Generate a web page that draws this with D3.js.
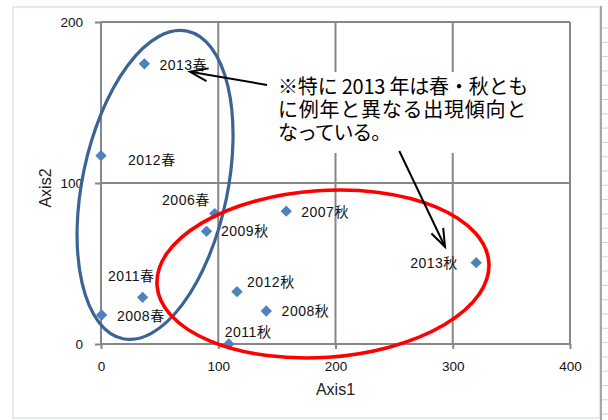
<!DOCTYPE html>
<html>
<head>
<meta charset="utf-8">
<script src="https://cdn.jsdelivr.net/npm/d3@7"></script>
<style>
  html, body { margin: 0; padding: 0; background: #fff; }
  svg { display: block; }
</style>
</head>
<body>
<svg id="chart" width="608" height="420"></svg>
<script>
// ---- data ----
const labels  = ["2013春","2012春","2006春","2009秋","2011春","2008春","2012秋","2008秋","2011秋","2007秋","2013秋"];
const axis1   = [37, 0, 97, 90, 35.5, 0.5, 116, 141, 109, 158, 320];
const axis2   = [174, 117, 81, 70, 29, 18, 32.5, 20.5, 0, 82.5, 50.5];
const xTicks  = [0, 100, 200, 300, 400];
const yTicks  = [0, 100, 200];
const calloutLines = ["※特に 2013 年は春・秋とも", "に例年と異なる出現傾向と", "なっている。"];
const xTitle = "Axis1";
const yTitle = "Axis2";

// ---- label placement (pixel offsets from marker, anchor) ----
const labelPlace = [
  [15, 1, "start"], [27, 4, "start"], [-5, -13, "end"], [14.5, 0, "start"],
  [12, -21, "end"], [15.4, 1, "start"], [10, -10, "start"], [15.3, 0, "start"],
  [-4, -12, "start"], [15, 0.7, "start"], [-18.4, 0.6, "end"]
];

const svg = d3.select("#chart");

const x = d3.scaleLinear().domain([0, 400]).range([101, 570]);
const y = d3.scaleLinear().domain([0, 200]).range([344, 22]);

const gridColor = "#878787";
const font = "'Liberation Sans', 'Noto Sans CJK JP', sans-serif";
const jpFont = "'Noto Sans CJK JP', sans-serif";

// spreadsheet background decorations
svg.append("rect").attr("x", 13).attr("y", 7).attr("width", 587).attr("height", 411)
  .attr("fill", "#fff").attr("stroke", "#d3d9e4").attr("stroke-width", 1.2);
svg.append("line").attr("x1", 601).attr("x2", 601).attr("y1", 6).attr("y2", 420)
  .attr("stroke", "#8c8c8c").attr("stroke-width", 1.5);
svg.append("g").selectAll("line").data(d3.range(28, 420, 14.3)).join("line")
  .attr("x1", 602).attr("x2", 608).attr("y1", d => d).attr("y2", d => d)
  .attr("stroke", "#c9d2e3").attr("stroke-width", 1);

// gridlines
const grid = svg.append("g");
grid.selectAll("line.vx").data(xTicks).join("line").attr("class", "vx")
  .attr("x1", d => x(d)).attr("x2", d => x(d)).attr("y1", y(200)).attr("y2", y(0))
  .attr("stroke", gridColor).attr("stroke-width", 2);
grid.selectAll("line.hy").data(yTicks).join("line").attr("class", "hy")
  .attr("x1", x(0)).attr("x2", x(400)).attr("y1", d => y(d)).attr("y2", d => y(d))
  .attr("stroke", gridColor).attr("stroke-width", 2);

// axes
const xAxis = svg.append("g").attr("transform", `translate(0,${y(0)})`)
  .call(d3.axisBottom(x).tickValues(xTicks).tickSize(5).tickPadding(10));
const yAxis = svg.append("g").attr("transform", `translate(${x(0)},0)`)
  .call(d3.axisLeft(y).tickValues(yTicks).tickSize(6).tickPadding(12));
[xAxis, yAxis].forEach(a => {
  a.select(".domain").remove();
  a.selectAll(".tick line").attr("stroke", gridColor).attr("stroke-width", 2);
  a.selectAll(".tick text").attr("font-family", font).attr("font-size", 13.5).attr("fill", "#111");
});
xAxis.selectAll(".tick text").attr("dy", "0.9em");

// axis titles
svg.append("text").attr("x", 335.5).attr("y", 389).attr("dy", "0.35em")
  .attr("text-anchor", "middle").attr("font-family", font).attr("font-size", 16)
  .attr("fill", "#222").text(xTitle);
svg.append("text").attr("transform", "translate(45,188) rotate(-90)").attr("dy", "0.35em")
  .attr("text-anchor", "middle").attr("font-family", font).attr("font-size", 16)
  .attr("fill", "#222").text(yTitle);

// markers
const pts = labels.map((l, i) => ({ l, a: axis1[i], b: axis2[i], p: labelPlace[i] }));
svg.append("g").selectAll("path").data(pts).join("path")
  .attr("d", d3.symbol(d3.symbolSquare, 64))
  .attr("transform", d => `translate(${x(d.a)},${y(d.b)}) rotate(45)`)
  .attr("fill", "#4f81bd");

// labels
svg.append("g").selectAll("text").data(pts).join("text")
  .attr("x", d => x(d.a) + d.p[0]).attr("y", d => y(d.b) + d.p[1])
  .attr("dy", "0.35em").attr("text-anchor", d => d.p[2])
  .attr("font-family", font).attr("font-size", 14).attr("letter-spacing", 0.5)
  .attr("fill", "#111").text(d => d.l);

// ellipses (annotation shapes)
svg.append("ellipse")
  .attr("transform", `translate(${x(46.1)},${y(98.8)}) rotate(11.8)`)
  .attr("rx", 72.6).attr("ry", 157.1)
  .attr("fill", "none").attr("stroke", "#3b6494").attr("stroke-width", 3.2);
svg.append("ellipse")
  .attr("transform", `translate(${x(189.3)},${y(43.5)}) rotate(-3.9)`)
  .attr("rx", 166.3).attr("ry", 83.4)
  .attr("fill", "none").attr("stroke", "#ff0000").attr("stroke-width", 3.6);

// callout box (white background)
svg.append("rect").attr("x", x(139.9)).attr("y", y(168.9))
  .attr("width", x(378.7) - x(139.9)).attr("height", y(118.6) - y(168.9))
  .attr("fill", "#fff");

// callout text: one text element, one tspan per line
const cx0 = x(151);
const targets = [250, 249, 112];
const callout = svg.append("text").attr("x", cx0).attr("y", 87).attr("dy", "0.36em")
  .attr("font-family", jpFont).attr("font-size", 20).attr("fill", "#000");
calloutLines.forEach((t, i) => {
  const ts = callout.append("tspan").attr("x", cx0).attr("dy", i === 0 ? "0.36em" : 22.7).text(t);
  const nat = ts.node().getComputedTextLength();
  const n = [...t].length;
  const ls = Math.max(-2, Math.min(4, (targets[i] - nat) / n));
  ts.attr("letter-spacing", ls.toFixed(2));
});
callout.attr("dy", null);

// arrows
function arrow(from, to) {
  const fx = x(from[0]), fy = y(from[1]), tx = x(to[0]), ty = y(to[1]);
  const ang = Math.atan2(fy - ty, fx - tx);
  const L = 19, da = 20 * Math.PI / 180;
  svg.append("line").attr("x1", fx).attr("y1", fy).attr("x2", tx).attr("y2", ty)
    .attr("stroke", "#000").attr("stroke-width", 2);
  svg.append("path")
    .attr("d", `M${tx + L * Math.cos(ang - da)},${ty + L * Math.sin(ang - da)} L${tx},${ty} L${tx + L * Math.cos(ang + da)},${ty + L * Math.sin(ang + da)}`)
    .attr("fill", "none").attr("stroke", "#000").attr("stroke-width", 2);
}
arrow([141.6, 160.9], [75.9, 169.1]);
arrow([254.4, 119.9], [293.4, 60.4]);
</script>
</body>
</html>
